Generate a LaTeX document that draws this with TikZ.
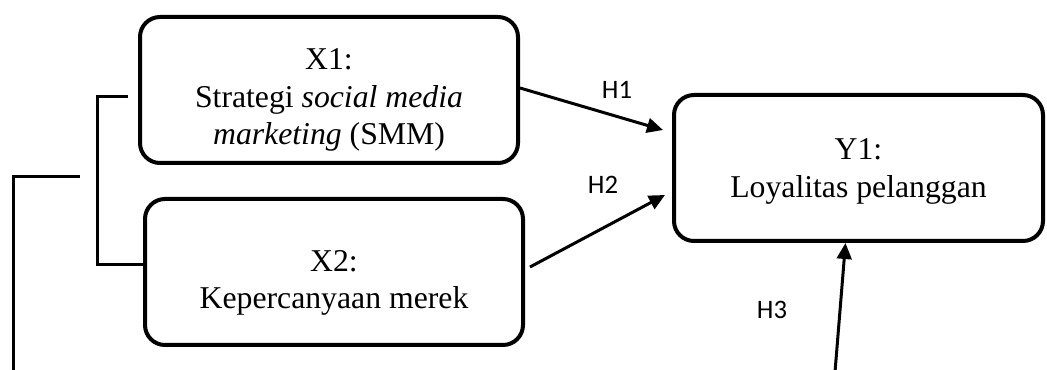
\documentclass[tikz,border=0pt]{standalone}
\usepackage{fontspec}
\setmainfont{Liberation Serif}
\newfontfamily\hfont{Carlito}
\usetikzlibrary{arrows.meta,calc}
\begin{document}
\begin{tikzpicture}[x=0.75pt,y=-0.75pt,
  box/.style={draw,line width=3pt,rounded corners=15pt,inner sep=0pt,minimum height=109.5pt},
  lbl/.style={align=center,inner sep=0pt,font=\fontsize{23.8}{28}\selectfont},
  hl/.style={inner sep=0pt,anchor=base,font=\hfont\fontsize{20}{24}\selectfont},
  arr/.style={line width=2.25pt,-{Triangle[length=12pt,width=11pt]}},
  ln/.style={line width=2.25pt}]
\useasboundingbox (0,0) rectangle (1047,370);
% boxes
\node[box,minimum width=283.5pt] (X1) at (329,90) {};
\node[box,minimum width=283.5pt] (X2) at (334,272) {};
\node[box,minimum width=276.75pt] (Y1) at (858.5,168) {};
% texts
\node[lbl] (tX1) at ($(X1.center)+(0,10)$) {X1:\\Strategi \textit{social media}\\\textit{marketing} (SMM)};
\node[lbl] (tX2) at ($(X2.center)+(0,11)$) {X2:\\Kepercanyaan merek};
\node[lbl] (tY1) at ($(Y1.center)+(0,3.5)$) {Y1:\\Loyalitas pelanggan};
% coordinates
\coordinate (h1e) at ($(Y1.west)+(-9,-38)$);
\coordinate (h2s) at ($(X2.east)+(5,-5)$);
\coordinate (h2e) at ($(Y1.west)+(-7,27)$);
\coordinate (h3s) at (835,372);
\coordinate (h3e) at ($(Y1.south)+(-13,0)$);
\coordinate (b1a) at (128,97);
\coordinate (b1b) at (97,97);
\coordinate (b1c) at (97,265);
\coordinate (b2a) at (80,177);
\coordinate (b2b) at (13,177);
\coordinate (b2c) at (13,372);
% arrows
\draw[arr] ($(X1.east)+(0,-2)$) -- (h1e);
\draw[arr] (h2s) -- (h2e);
\draw[arr] (h3s) -- (h3e);
% brackets
\draw[ln] (b1a) -- (b1b) -- (b1c) -- (b1c -| X2.west);
\draw[ln] (b2a) -- (b2b) -- (b2c);
% labels
\node[hl] (H1) at (617,99) {H1};
\node[hl] (H2) at (603,194) {H2};
\node[hl] (H3) at (772,319) {H3};
\end{tikzpicture}
\end{document}
